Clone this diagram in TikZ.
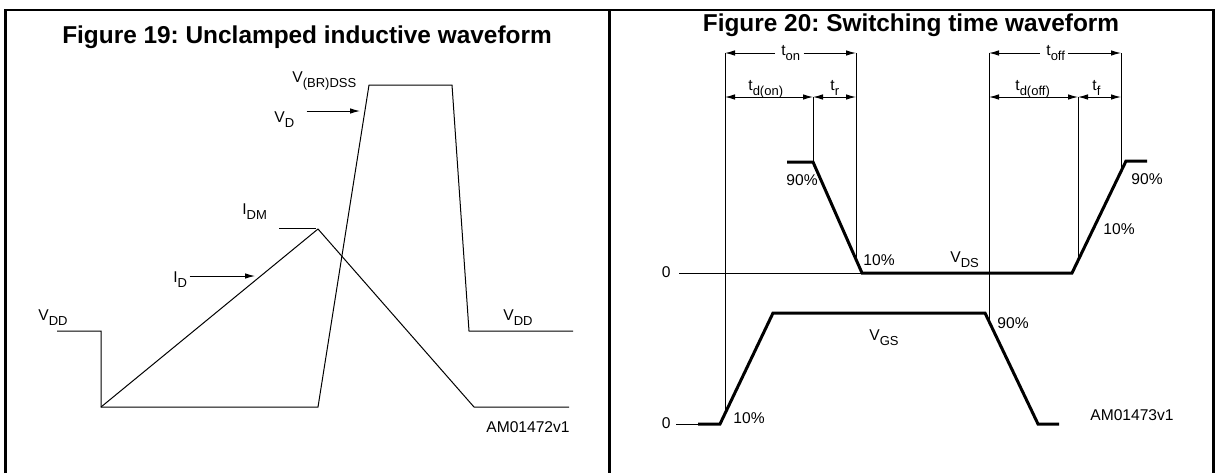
\documentclass[tikz,border=0pt]{standalone}
\usepackage{fontspec}
\setmainfont{Liberation Sans}
\usetikzlibrary{arrows.meta}
\frenchspacing
\newcommand{\sig}[2]{#1\raisebox{-2.8pt}{\fontsize{6.5}{7}\selectfont #2}}
\tikzset{frame/.style={line width=1.1pt},
  wave/.style={line width=0.5pt},
  bold wave/.style={line width=1.5pt},
  lbl/.style={inner sep=0pt, anchor=base west, font=\fontsize{7.8}{9}\selectfont},
  ttl/.style={inner sep=0pt, anchor=base, font=\fontsize{12.2}{14}\selectfont\bfseries},
  ptr/.style={line width=0.5pt, -{Latex[length=5pt,width=2.8pt]}},
  dim/.style={line width=0.5pt, {Latex[length=5pt,width=2.8pt]}-{Latex[length=5pt,width=2.8pt]}}}

\begin{document}
\begin{tikzpicture}[x=0.5pt,y=-0.5pt]
\useasboundingbox (0,0) rectangle (1218,473);
\draw[frame] (5.5,473) -- (5.5,10) -- (1213.5,10) -- (1213.5,473);
\draw[frame] (609.5,10) -- (609.5,473);

% Figure 19
\node[ttl] (ttl19) at (307,43) {Figure 19: Unclamped inductive waveform};
\draw[wave] (57,331) -- (101,331) -- (101,407) -- (318,407) -- (369,85) -- (452,85) -- (469,331) -- (573,331);
\draw[wave] (101,407) -- (318,229) -- (474,407) -- (569,407);
\draw[wave] (279,228) -- (316,228);
\node[lbl] (vbr) at (292,82) {\sig{V}{(BR)DSS}};
\node[lbl] (vd) at (274,122) {\sig{V}{D}};
\coordinate (vdtip) at (360,111);
\draw[ptr] (vd.east |- vdtip) ++(12,0) -- (vdtip);
\node[lbl] (idm) at (242,214) {\sig{I}{DM}};
\node[lbl] (id) at (173,282) {\sig{I}{D}};
\coordinate (idtip) at (255,276);
\draw[ptr] (id.east |- idtip) ++(2,0) -- (idtip);
\node[lbl] (vddl) at (38,320) {\sig{V}{DD}};
\node[lbl] (vddr) at (503,320) {\sig{V}{DD}};
\node[lbl, anchor=base east] (am72) at (570,432) {AM01472v1};

% Figure 20
\node[ttl] (ttl20) at (911,31) {Figure 20: Switching time waveform};
\coordinate (onL) at (725,53);
\coordinate (onR) at (856,53);
\coordinate (donL) at (725,97);
\coordinate (donR) at (813,97);
\coordinate (offL) at (989,53);
\coordinate (offR) at (1121,53);
\coordinate (doffL) at (989,97);
\coordinate (doffR) at (1078,97);
\draw[wave] (onL) -- (725,414);
\draw[wave] (donR) -- (813,162);
\draw[wave] (onR) -- (856,259);
\draw[wave] (offL) -- (989,321);
\draw[wave] (doffR) -- (1078,258);
\draw[wave] (offR) -- (1121,170);

\node[lbl] (ton) at (781,55) {\sig{t}{on}};
\draw[ptr] (ton.west |- onL) ++(-6,0) -- (onL);
\draw[ptr] (ton.east |- onR) ++(3,0) -- (onR);
\node[lbl] (tdon) at (748,90) {\sig{t}{d(on)}};
\draw[dim] (donL) -- (donR);
\node[lbl] (tr) at (830,90) {\sig{t}{r}};
\draw[dim] (donR) -- (onR |- donR);

\node[lbl] (toff) at (1046,55) {\sig{t}{off}};
\draw[ptr] (toff.west |- offL) ++(-6,0) -- (offL);
\draw[ptr] (toff.east |- offR) ++(3,0) -- (offR);
\node[lbl] (tdoff) at (1015,90) {\sig{t}{d(off)}};
\draw[dim] (doffL) -- (doffR);
\node[lbl] (tf) at (1092,90) {\sig{t}{f}};
\draw[dim] (doffR) -- (offR |- doffR);

\draw[bold wave] (787,162) -- (813,162) -- (862,273) -- (1072,273) -- (1126,161) -- (1147,161);
\draw[bold wave] (698,424) -- (720,424) -- (773,313) -- (985,313) -- (1038,424) -- (1059,424);
\draw[wave] (679,273) -- (862,273);
\draw[wave] (676,424) -- (698,424);
\node[lbl, anchor=base east] (zds) at (671,277) {0};
\node[lbl, anchor=base east] (zgs) at (671,428) {0};

\node[lbl] (p90a) at (786,185) {90\%};
\node[lbl] (p10a) at (863,265) {10\%};
\node[lbl] (vds) at (950,262) {\sig{V}{DS}};
\node[lbl] (p10b) at (1103,234) {10\%};
\node[lbl] (p90b) at (1131,184) {90\%};
\node[lbl] (p90c) at (997,328) {90\%};
\node[lbl] (vgs) at (869,340) {\sig{V}{GS}};
\node[lbl] (p10c) at (733,423) {10\%};
\node[lbl, anchor=base east] (am73) at (1174,420) {AM01473v1};
\end{tikzpicture}
\end{document}
